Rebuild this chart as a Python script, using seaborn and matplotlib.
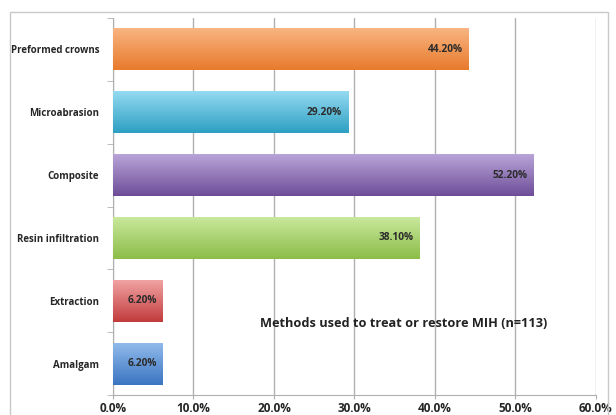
import numpy as np
import pandas as pd
import seaborn as sns
import matplotlib.pyplot as plt
from matplotlib.colors import LinearSegmentedColormap

# data
methods = ['Preformed crowns', 'Microabrasion', 'Composite',
           'Resin infiltration', 'Extraction', 'Amalgam']
percent = [44.2, 29.2, 52.2, 38.1, 6.2, 6.2]
value_labels = ['44.20%', '29.20%', '52.20%', '38.10%', '6.20%', '6.20%']
x_ticks = [0, 10, 20, 30, 40, 50, 60]
x_tick_labels = ['0.0%', '10.0%', '20.0%', '30.0%', '40.0%', '50.0%', '60.0%']

# (top, bottom) colours of each bar's gradient
bar_colors = [('#f9b684', '#e87a2c'), ('#97dcf3', '#2d9fc2'),
              ('#bba7da', '#6d4d98'), ('#cbe99f', '#8bbd47'),
              ('#f2a5a5', '#c23b3c'), ('#93bcec', '#3a74c1')]

df = pd.DataFrame({'method': methods, 'percent': percent})

sns.set_style('white')
plt.rcParams['font.family'] = ['Open Sans', 'DejaVu Sans']

fig = plt.figure(figsize=(6.16, 4.15), dpi=100)
ax = fig.add_axes([0.1834, 0.0482, 0.7841, 0.9084])

sns.barplot(data=df, x='percent', y='method', orient='h', width=0.67,
            color='white', ax=ax, zorder=3)

# gradient fill, lighter on top
grad = np.linspace(0, 1, 256).reshape(-1, 1)
for patch, (c_top, c_bot) in zip(ax.patches, bar_colors):
    x0, y0 = patch.get_x(), patch.get_y()
    w, h = patch.get_width(), patch.get_height()
    cmap = LinearSegmentedColormap.from_list('g', [c_top, c_bot])
    im = ax.imshow(grad, cmap=cmap, aspect='auto', zorder=3,
                   extent=[x0, x0 + w, y0 + h, y0])
    im.set_clip_path(patch)
    patch.set_edgecolor('none')

for i, (v, lab) in enumerate(zip(percent, value_labels)):
    ax.text(v - 0.75, i, lab, ha='right', va='center', fontsize=7.3,
            fontweight='bold', color='#2b2b2b', zorder=4)

ax.set_xlim(0, 60)
ax.set_ylim(5.5, -0.5)
ax.set_xticks(x_ticks)
ax.set_xticklabels(x_tick_labels, fontsize=8.5, fontweight='bold')
ax.xaxis.grid(True, color='#b0b0b0', linewidth=1, zorder=0)
ax.set_axisbelow(True)

ax.set_yticks(range(len(methods)))
ax.set_yticklabels(methods, fontsize=7, fontweight='bold')
ax.set_yticks(np.arange(-0.5, 6, 1), minor=True)
ax.tick_params(axis='y', which='major', length=0, pad=10)
ax.tick_params(axis='y', which='minor', length=4, color='#b0b0b0',
               direction='out', left=True)
ax.tick_params(axis='x', length=3, color='#b0b0b0', direction='out',
               bottom=True, pad=2)
ax.set_xlabel('')
ax.set_ylabel('')

for side in ['top', 'right']:
    ax.spines[side].set_visible(False)
for side in ['left', 'bottom']:
    ax.spines[side].set_color('#b0b0b0')

ax.text(0.602, 0.19, 'Methods used to treat or restore MIH (n=113)',
        transform=ax.transAxes, ha='center', va='center', fontsize=9.2,
        fontweight='bold', color='#222222', zorder=5)

# light frame around the whole chart
fig.add_artist(plt.Rectangle((10 / 616, -0.1), 598 / 616, 1 - 12 / 415 + 0.1,
                             transform=fig.transFigure, fill=False,
                             edgecolor='#c8c8c8', linewidth=1))

fig.savefig('out.png', dpi=100)
